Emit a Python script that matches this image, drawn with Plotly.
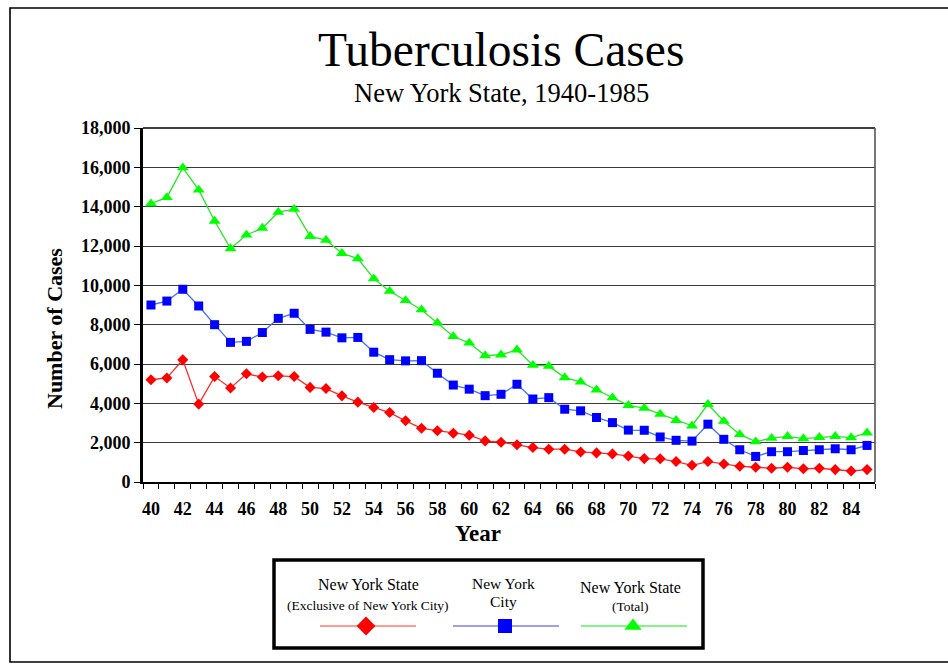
import plotly.graph_objects as go

# ---------------- data ----------------
years = [40, 41, 42, 43, 44, 45, 46, 47, 48, 49,
         50, 51, 52, 53, 54, 55, 56, 57, 58, 59,
         60, 61, 62, 63, 64, 65, 66, 67, 68, 69,
         70, 71, 72, 73, 74, 75, 76, 77, 78, 79,
         80, 81, 82, 83, 84, 85]

nys_excl_nyc = [5200, 5290, 6210, 3960, 5360, 4780, 5500, 5340, 5400, 5360,
                4810, 4750, 4380, 4060, 3790, 3530, 3110, 2730, 2610, 2480,
                2380, 2090, 2020, 1890, 1750, 1670, 1670, 1530, 1480, 1430,
                1320, 1190, 1180, 1040, 850, 1040, 920, 800, 750, 700,
                750, 670, 700, 630, 560, 630]

nyc = [9000, 9200, 9800, 8950, 8000, 7100, 7150, 7600, 8320, 8580,
       7760, 7620, 7330, 7350, 6600, 6220, 6160, 6170, 5530, 4930,
       4720, 4390, 4460, 4970, 4220, 4290, 3700, 3620, 3280, 3020,
       2640, 2630, 2290, 2120, 2080, 2940, 2170, 1640, 1300, 1540,
       1540, 1600, 1640, 1690, 1640, 1860]

nys_total = [14150, 14470, 15980, 14850, 13270, 11870, 12560, 12910, 13720, 13870,
             12490, 12300, 11630, 11360, 10340, 9700, 9230, 8760, 8090, 7400,
             7070, 6430, 6470, 6720, 5940, 5890, 5310, 5090, 4690, 4290,
             3900, 3760, 3450, 3140, 2860, 3950, 3090, 2420, 2050, 2230,
             2320, 2210, 2270, 2320, 2260, 2500]

x_tick_vals = [40, 42, 44, 46, 48, 50, 52, 54, 56, 58, 60, 62, 64, 66, 68,
               70, 72, 74, 76, 78, 80, 82, 84]
x_tick_text = [str(v) for v in x_tick_vals]
# category boundaries (tick marks sit between the years)
x_boundaries = [y - 0.5 for y in years] + [years[-1] + 0.5]

title_text = "Tuberculosis Cases"
subtitle_text = "New York State, 1940-1985"
y_title = "Number of Cases"
x_title = "Year"

series_names = ["New York State (Exclusive of New York City)", "New York City", "New York State (Total)"]

# ---------------- styling ----------------
W, H = 948, 664
SERIF = "Liberation Serif, Times New Roman, serif"

RED_M, RED_L = "#FF0000", "#FF2a2a"
BLUE_M, BLUE_L = "#0000FF", "#4070FF"
GREEN_M, GREEN_L = "#00FF00", "#22E822"


def px(xp):
    return xp / W


def py(yp):
    return 1 - yp / H


fig = go.Figure()

fig.add_trace(go.Scatter(
    x=years, y=nys_excl_nyc, name=series_names[0], mode="lines+markers",
    line=dict(color=RED_L, width=1.3),
    marker=dict(symbol="diamond", size=8.5, color=RED_M),
    xaxis="x", yaxis="y"))
fig.add_trace(go.Scatter(
    x=years, y=nyc, name=series_names[1], mode="lines+markers",
    line=dict(color=BLUE_L, width=1.3),
    marker=dict(symbol="square", size=9, color=BLUE_M),
    xaxis="x", yaxis="y"))
fig.add_trace(go.Scatter(
    x=years, y=nys_total, name=series_names[2], mode="lines+markers",
    line=dict(color=GREEN_L, width=1.3),
    marker=dict(symbol="triangle-up", size=10.5, color=GREEN_M),
    xaxis="x", yaxis="y"))

# legend sample markers on a full-figure pixel overlay axis
leg_y = 626
leg_markers = [(366, "diamond", 14.5, RED_M), (505, "square", 14, BLUE_M), (633, "triangle-up", 15, GREEN_M)]
for (mx, sym, sz, col) in leg_markers:
    fig.add_trace(go.Scatter(
        x=[mx], y=[leg_y], mode="markers",
        marker=dict(symbol=sym, size=sz, color=col),
        xaxis="x2", yaxis="y2", hoverinfo="skip", showlegend=False))

x0d, x1d = px(143), px(875)
y0d, y1d = py(482), py(128)

tickfont = dict(family=SERIF, size=18, color="black", weight="bold")

fig.update_layout(
    width=W, height=H,
    margin=dict(l=0, r=0, t=0, b=0, autoexpand=False),
    paper_bgcolor="white", plot_bgcolor="rgba(0,0,0,0)",
    showlegend=False,
    xaxis=dict(
        domain=[x0d, x1d], range=[39.5, 85.5],
        tickmode="array", tickvals=x_boundaries, ticktext=[""] * len(x_boundaries),
        ticks="outside", ticklen=5, tickwidth=1.2, tickcolor="black",
        showgrid=False, zeroline=False,
        showline=True, linecolor="black", linewidth=1.6,
        anchor="y", fixedrange=True),
    xaxis3=dict(
        domain=[x0d, x1d], range=[39.5, 85.5], overlaying="x", anchor="y", side="bottom",
        tickmode="array", tickvals=x_tick_vals, ticktext=x_tick_text,
        ticks="outside", ticklen=10, tickcolor="rgba(0,0,0,0)",
        showgrid=False, zeroline=False, showline=False,
        tickfont=tickfont, fixedrange=True),
    yaxis=dict(
        domain=[y0d, y1d], range=[0, 18000],
        tickmode="linear", tick0=0, dtick=2000, tickformat=",",
        ticks="outside", ticklen=6, tickwidth=1.2, tickcolor="black",
        showgrid=True, gridcolor="#3a3a3a", gridwidth=1.3,
        zeroline=False,
        showline=True, linecolor="black", linewidth=2.6,
        tickfont=tickfont,
        anchor="x", fixedrange=True),
    xaxis2=dict(domain=[0, 1], range=[0, W], visible=False, anchor="y2", fixedrange=True),
    yaxis2=dict(domain=[0, 1], range=[H, 0], visible=False, anchor="x2", fixedrange=True),
)

# invisible helper trace so the label axis (xaxis3) is drawn
fig.add_trace(go.Scatter(x=[years[0]], y=[0], xaxis="x3", yaxis="y", mode="markers",
                         marker=dict(size=1, color="rgba(0,0,0,0)"), hoverinfo="skip", showlegend=False))

shapes = [
    # outer chart border (right edge lies outside the window)
    dict(type="rect", xref="paper", yref="paper", x0=px(10), x1=px(960), y0=py(662), y1=py(8),
         line=dict(color="black", width=1.6), fillcolor="rgba(0,0,0,0)"),
    # plot frame top and right
    dict(type="line", xref="paper", yref="paper", x0=x0d, x1=x1d, y0=y1d, y1=y1d,
         line=dict(color="black", width=1.6)),
    dict(type="line", xref="paper", yref="paper", x0=x1d, x1=x1d, y0=y0d, y1=y1d,
         line=dict(color="#555555", width=1.6)),
    # legend box
    dict(type="rect", xref="paper", yref="paper", x0=px(274), x1=px(703), y0=py(648), y1=py(560),
         line=dict(color="black", width=3.5), fillcolor="rgba(0,0,0,0)"),
    # legend sample lines
    dict(type="line", xref="paper", yref="paper", x0=px(320), x1=px(416), y0=py(leg_y), y1=py(leg_y),
         line=dict(color="#FF7a6a", width=1.6), layer="below"),
    dict(type="line", xref="paper", yref="paper", x0=px(453), x1=px(559), y0=py(leg_y), y1=py(leg_y),
         line=dict(color="#7f80e6", width=1.6), layer="below"),
    dict(type="line", xref="paper", yref="paper", x0=px(581), x1=px(687), y0=py(leg_y), y1=py(leg_y),
         line=dict(color="#5cf05c", width=1.6), layer="below"),
]
fig.update_layout(shapes=shapes)


def ann(text, x, y, size, bold=False, angle=0):
    return dict(text=text, x=px(x), y=py(y), xref="paper", yref="paper",
                xanchor="center", yanchor="middle", showarrow=False, textangle=angle,
                font=dict(family=SERIF, size=size, color="black", weight="bold" if bold else "normal"))


annotations = [
    ann(title_text, 501, 50, 47.5),
    ann(subtitle_text, 501, 93, 26.5),
    ann(y_title, 55, 329, 22, bold=True, angle=-90),
    ann(x_title, 478, 533, 23, bold=True),
    ann("New York State", 368, 584, 16),
    ann("(Exclusive of New York City)", 368, 605, 13.5),
    ann("New York", 503, 583, 15.5),
    ann("City", 503, 601, 15.5),
    ann("New York State", 630, 587, 16),
    ann("(Total)", 630, 606, 13.5),
]
fig.update_layout(annotations=annotations)

fig.write_html("out.html", config={"displayModeBar": False},
               post_script="document.body.style.margin='0';document.body.style.overflow='hidden';")
